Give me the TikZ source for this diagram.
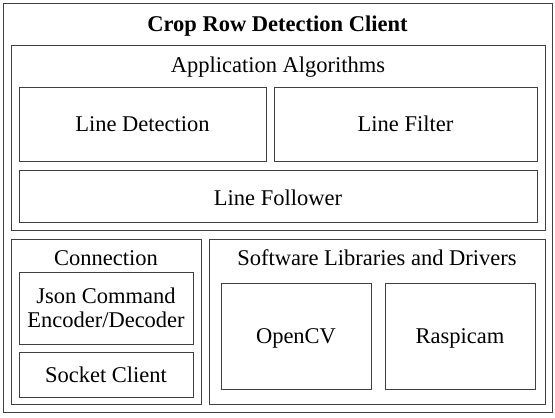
\documentclass[tikz,border=0pt]{standalone}
\usepackage{fontspec}
\setmainfont{Liberation Serif}
\begin{document}
\begin{tikzpicture}[x=1pt,y=-1pt,
  box/.style={draw=black!75, line width=1pt, inner sep=0pt, align=center, fill=white, text height=15pt, text depth=0pt},
  lbl/.style={inner sep=0pt, align=center, anchor=base}]
\useasboundingbox (0,0) rectangle (555,418);
\fontsize{22.5}{24.6}\selectfont
\node[box, minimum width=549, minimum height=409] (outer) at (277.5,207.5) {};
\node[lbl, font=\bfseries] (title) at (277.5,31.7) {Crop Row Detection Client};
\node[box, minimum width=534, minimum height=185] (app) at (278,137.5) {};
\node[lbl] (apptitle) at (278,72) {Application Algorithms};
\node[box, minimum width=247, minimum height=74] (ld) at (142.5,124) {Line Detection};
\node[box, minimum width=263, minimum height=74] (lf) at (405.5,124) {Line Filter};
\node[box, minimum width=518, minimum height=52, text height=18pt] (lfol) at (278,196) {Line Follower};
\node[box, minimum width=190, minimum height=165] (conn) at (106,321.5) {};
\node[lbl] (conntitle) at (106,265.3) {Connection};
\node[box, minimum width=174, minimum height=72, text height=39.6pt] (json) at (106,308) {Json Command\\Encoder/Decoder};
\node[box, minimum width=174, minimum height=45] (sock) at (106,374.5) {Socket Client};
\node[box, minimum width=336, minimum height=165] (soft) at (377,321.5) {};
\node[lbl] (softtitle) at (377,265.3) {Software Libraries and Drivers};
\node[box, minimum width=150, minimum height=106] (cv) at (296,336) {OpenCV};
\node[box, minimum width=150, minimum height=106] (rc) at (460,336) {Raspicam};
\end{tikzpicture}
\end{document}
